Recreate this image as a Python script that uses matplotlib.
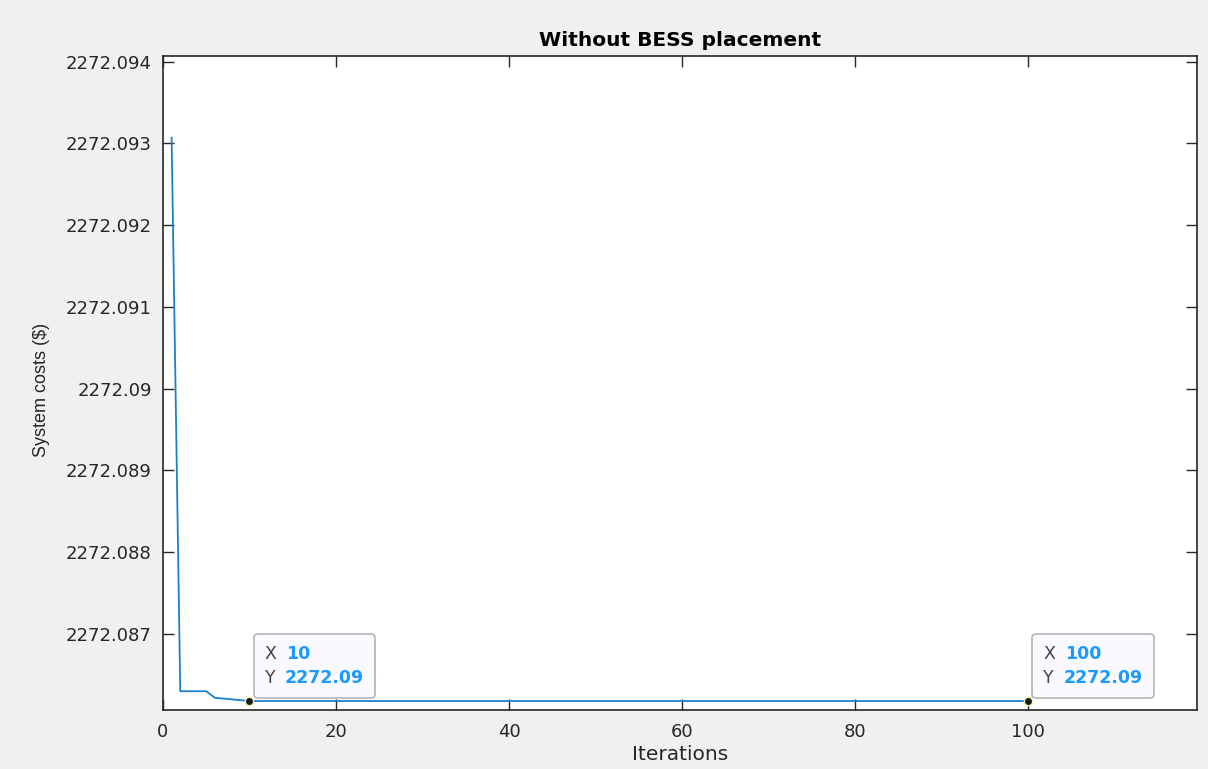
import matplotlib
matplotlib.use("Agg")
import matplotlib.pyplot as plt
from matplotlib.offsetbox import AnnotationBbox, HPacker, TextArea, VPacker

plt.rcParams["font.family"] = ["DejaVu Sans"]

# Convergence of system costs over iterations
iterations = list(range(1, 101))
costs = ([2272.09307]
         + [2272.08630] * 4
         + [2272.08622, 2272.08621, 2272.08620, 2272.08619]
         + [2272.08618] * 91)

x_ticks = [0, 20, 40, 60, 80, 100]
y_ticks = [2272.087, 2272.088, 2272.089, 2272.090, 2272.091, 2272.092,
           2272.093, 2272.094]
y_tick_labels = ["2272.087", "2272.088", "2272.089", "2272.09", "2272.091",
                 "2272.092", "2272.093", "2272.094"]
tip_x = [10, 100]
tip_labels = ["2272.09", "2272.09"]

TEXT = "#262626"
LINE = "#1a82cc"

fig = plt.figure(figsize=(12.08, 7.69), dpi=100, facecolor="#f0f0f0")
ax = fig.add_axes([0.1349, 0.0767, 0.8560, 0.8505])
ax.set_facecolor("white")

ax.plot(iterations, costs, color=LINE, lw=1.3)

ax.set_xlim(0, 119.5)
ax.set_ylim(2272.08607, 2272.09407)
ax.set_xticks(x_ticks)
ax.set_yticks(y_ticks)
ax.set_yticklabels(y_tick_labels)

ax.tick_params(direction="in", length=8, width=1, colors=TEXT,
               labelsize=13, top=True, right=True)
ax.tick_params(axis="y", pad=8)
ax.tick_params(axis="x", pad=9)
for s in ax.spines.values():
    s.set_color(TEXT)
    s.set_linewidth(1.2)

ax.set_xlabel("Iterations", fontsize=14.5, color=TEXT, labelpad=3)
ax.set_ylabel("System costs (\\$)", fontsize=13, color=TEXT,
              family="Liberation Sans")
ax.yaxis.set_label_coords(-0.109, 0.49)
ax.set_title("Without BESS placement", fontsize=14.5, fontweight="bold",
             color="black", pad=7)

# data tips
for xv, lab in zip(tip_x, tip_labels):
    yv = costs[iterations.index(xv)]
    ax.plot(xv, yv, "o", ms=6, mfc="#1a1a1a", mec="#f2f2b0", mew=1, zorder=5)
    row1 = HPacker(children=[
        TextArea("X", textprops=dict(color="#444444", fontsize=12.5)),
        TextArea(str(xv), textprops=dict(color="#1a9aff", fontsize=12.5,
                                         fontweight="bold"))],
        pad=0, sep=7)
    row2 = HPacker(children=[
        TextArea("Y", textprops=dict(color="#444444", fontsize=12.5)),
        TextArea(lab, textprops=dict(color="#1a9aff", fontsize=12.5,
                                     fontweight="bold"))],
        pad=0, sep=7)
    box = VPacker(children=[row1, row2], pad=0, sep=4, align="left")
    ab = AnnotationBbox(box, (xv, yv), xybox=(10.9, 10.2),
                        xycoords="data", boxcoords="offset points",
                        box_alignment=(0, 0), frameon=True, pad=0.8,
                        bboxprops=dict(boxstyle="round,pad=0.8,rounding_size=0.3",
                                       facecolor="#f9f9ff",
                                       edgecolor="#b4b4b4", lw=1.2))
    ax.add_artist(ab)

fig.savefig("out.png", dpi=100, facecolor=fig.get_facecolor())
